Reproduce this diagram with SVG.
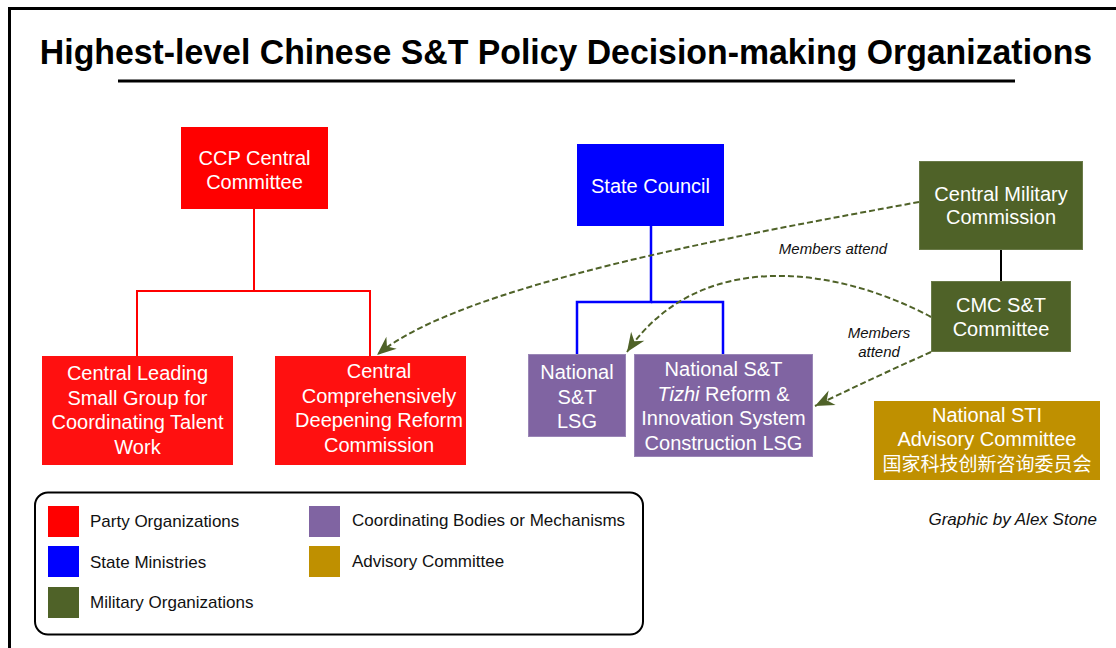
<svg xmlns="http://www.w3.org/2000/svg" width="1116" height="648" viewBox="0 0 1116 648">
<defs>
<style>
.t{font-family:"Liberation Sans",Arial,sans-serif;font-size:20px;fill:#fff;text-anchor:middle}
.lg{font-family:"Liberation Sans",Arial,sans-serif;font-size:17px;fill:#111}
.it{font-family:"Liberation Sans",Arial,sans-serif;font-style:italic;fill:#111}
.party{fill:#ff0000}
.party2{fill:#ff1010}
.state{fill:#0000ff}
.coord{fill:#8064a2;stroke:#9a86b6;stroke-width:1}
.mil{fill:#4f6228;stroke:#6a7a48;stroke-width:1}
.adv{fill:#bf9000}
.dash{fill:none;stroke:#4f6228;stroke-width:2;stroke-dasharray:6 3;marker-end:url(#arr)}
</style>
<marker id="arr" viewBox="-20 -10 22 20" refX="0" refY="0" markerWidth="22" markerHeight="20" markerUnits="userSpaceOnUse" orient="auto">
<path d="M0,0 L-19,-8 L-13,0 L-19,8 Z" fill="#4f6228"/>
</marker>
</defs>
<rect x="0" y="0" width="1116" height="648" fill="#fff"/>
<rect x="9.5" y="8.5" width="1200" height="700" fill="none" stroke="#000" stroke-width="3"/>
<g transform="translate(566 64) scale(0.85 1)">
<text x="0" y="0" font-family="'Liberation Sans',Arial,sans-serif" font-weight="bold" font-size="35" text-anchor="middle" textLength="1238" lengthAdjust="spacingAndGlyphs" fill="#000">Highest-level Chinese S&amp;T Policy Decision-making Organizations</text>
</g>
<line x1="118" y1="81" x2="1015" y2="81" stroke="#000" stroke-width="3"/>

<g id="connectors">
<polyline points="254,209 254,291 137,291 137,356" fill="none" stroke="#ff0000" stroke-width="2"/>
<polyline points="254,291 370,291 370,356" fill="none" stroke="#ff0000" stroke-width="2"/>
<polyline points="651,226 651,302 577,302 577,354" fill="none" stroke="#0000ff" stroke-width="2.5"/>
<polyline points="651,302 723,302 723,354" fill="none" stroke="#0000ff" stroke-width="2.5"/>
<line x1="1001" y1="250" x2="1001" y2="281" stroke="#000" stroke-width="2"/>
<path class="dash" d="M919,202 C740,235 460,285 377,355"/>
<path class="dash" d="M931,317 C840,268 700,245 627,352"/>
<path class="dash" d="M931,352 Q875,377 815,406"/>
<text class="it" x="833" y="254" font-size="15" text-anchor="middle">Members attend</text>
<text class="it" x="879" y="338" font-size="15" text-anchor="middle">Members</text>
<text class="it" x="879" y="357" font-size="15" text-anchor="middle">attend</text>
</g>

<g id="ccp">
<rect class="party" x="181" y="127" width="147" height="82"/>
<text class="t" x="254.5" y="165">CCP Central</text>
<text class="t" x="254.5" y="189">Committee</text>
</g>
<g id="talent">
<rect class="party2" x="42" y="356" width="191" height="109"/>
<text class="t" x="137.5" y="380">Central Leading</text>
<text class="t" x="137.5" y="404.5">Small Group for</text>
<text class="t" x="137.5" y="429">Coordinating Talent</text>
<text class="t" x="137.5" y="453.5">Work</text>
</g>
<g id="reform">
<rect class="party2" x="275" y="356" width="191" height="109"/>
<text class="t" x="379" y="378">Central</text>
<text class="t" x="379" y="402.5">Comprehensively</text>
<text class="t" x="379" y="427">Deepening Reform</text>
<text class="t" x="379" y="451.5">Commission</text>
</g>
<g id="statecouncil">
<rect class="state" x="577" y="144" width="147" height="82"/>
<text class="t" x="650.5" y="193">State Council</text>
</g>
<g id="stlsg">
<rect class="coord" x="528.5" y="354.5" width="97" height="82"/>
<text class="t" x="577" y="379">National</text>
<text class="t" x="577" y="403.5">S&amp;T</text>
<text class="t" x="577" y="428">LSG</text>
</g>
<g id="tizhi">
<rect class="coord" x="634.5" y="354.5" width="178" height="102"/>
<text class="t" x="723.5" y="376">National S&amp;T</text>
<text class="t" x="723.5" y="400.5"><tspan font-style="italic">Tizhi</tspan> Reform &amp;</text>
<text class="t" x="723.5" y="425">Innovation System</text>
<text class="t" x="723.5" y="449.5">Construction LSG</text>
</g>
<g id="cmc">
<rect class="mil" x="919.5" y="161.5" width="163" height="88"/>
<text class="t" x="1001" y="201">Central Military</text>
<text class="t" x="1001" y="224">Commission</text>
</g>
<g id="cmcst">
<rect class="mil" x="931.5" y="281.5" width="139" height="70"/>
<text class="t" x="1001" y="312">CMC S&amp;T</text>
<text class="t" x="1001" y="335.5">Committee</text>
</g>
<g id="advisory">
<rect class="adv" x="874" y="401" width="226" height="79"/>
<text class="t" x="987" y="422">National STI</text>
<text class="t" x="987" y="446">Advisory Committee</text>
<text class="t" x="987" y="471" style="font-family:'Noto Sans CJK SC','Liberation Sans',sans-serif;font-size:19px">国家科技创新咨询委员会</text>
</g>
<text class="it" x="1097" y="525" font-size="17" text-anchor="end">Graphic by Alex Stone</text>

<g id="legend">
<rect x="35" y="492.5" width="608" height="142" rx="13" ry="13" fill="#fff" stroke="#000" stroke-width="2"/>
<rect class="party" x="48" y="506" width="31" height="31"/>
<text class="lg" x="90" y="527">Party Organizations</text>
<rect class="state" x="48" y="546" width="31" height="31"/>
<text class="lg" x="90" y="568">State Ministries</text>
<rect fill="#4f6228" x="48" y="587" width="31" height="31"/>
<text class="lg" x="90" y="608">Military Organizations</text>
<rect fill="#8064a2" x="309" y="506" width="31" height="31"/>
<text class="lg" x="352" y="526">Coordinating Bodies or Mechanisms</text>
<rect class="adv" x="309" y="546" width="31" height="31"/>
<text class="lg" x="352" y="567">Advisory Committee</text>
</g>
</svg>
